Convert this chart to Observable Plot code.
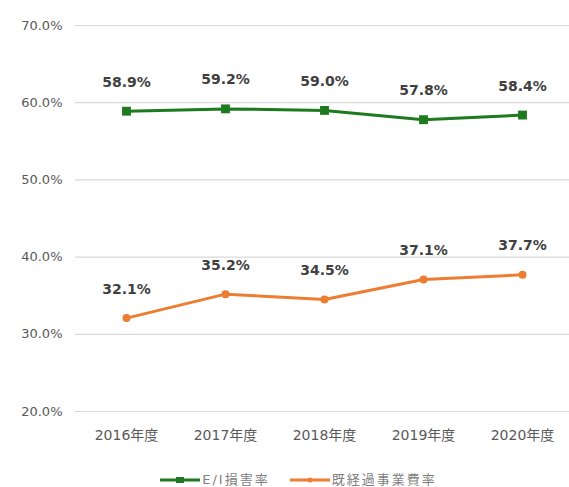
<!DOCTYPE html>
<html>
<head>
<meta charset="utf-8">
<script src="https://cdn.jsdelivr.net/npm/d3@7"></script>
<script src="https://cdn.jsdelivr.net/npm/@observablehq/plot@0.6"></script>
<style>
  html, body { margin: 0; padding: 0; background: #fff; }
  body { width: 569px; font-family: "DejaVu Sans", "Noto Sans CJK JP", sans-serif; }
  #legend { display: flex; justify-content: center; gap: 20px; margin-top: 17px; font-size: 13px; letter-spacing: 2px; line-height: 16px; color: #7f7f7f; padding-left: 28px; }
  #legend .item { display: flex; align-items: center; gap: 2px; }
  #legend svg { display: block; }
</style>
</head>
<body>
<div id="chart"></div>
<div id="legend"></div>
<script>
const years = ["2016年度", "2017年度", "2018年度", "2019年度", "2020年度"];
const seriesNames = ["E/I損害率", "既経過事業費率"];
const lossRatio = [58.9, 59.2, 59.0, 57.8, 58.4];
const expenseRatio = [32.1, 35.2, 34.5, 37.1, 37.7];
const yTicks = [20, 30, 40, 50, 60, 70];
const colors = ["#1e7a1e", "#ed7d31"];

const data = [];
years.forEach((y, i) => {
  data.push({year: y, series: seriesNames[0], value: lossRatio[i]});
  data.push({year: y, series: seriesNames[1], value: expenseRatio[i]});
});
const green = data.filter(d => d.series === seriesNames[0]);
const orange = data.filter(d => d.series === seriesNames[1]);
const fmt = d => d.toFixed(1) + "%";

const plot = Plot.plot({
  width: 569,
  height: 455,
  marginLeft: 75,
  marginRight: 0,
  marginTop: 25,
  marginBottom: 44,
  style: {fontFamily: '"DejaVu Sans", "Noto Sans CJK JP", sans-serif', fontSize: "12px", color: "#595959", background: "#fff"},
  x: {type: "point", domain: years, range: [125, 522], padding: 0, label: null},
  y: {domain: [20, 70], label: null},
  marks: [
    Plot.ruleY(yTicks, {stroke: "#d9d9d9", strokeWidth: 1.2}),
    Plot.axisY({ticks: yTicks, tickSize: 0, tickPadding: 13, tickFormat: fmt, label: null, fill: "#595959", fontSize: 13, style: {letterSpacing: "1.5px"}}),
    Plot.axisX({tickSize: 0, tickPadding: 19, label: null, fill: "#595959", fontSize: 14, style: {letterSpacing: "1px"}}),
    Plot.line(green, {x: "year", y: "value", stroke: colors[0], strokeWidth: 3}),
    Plot.dot(green, {x: "year", y: "value", symbol: "square", r: 5, fill: colors[0], stroke: null}),
    Plot.line(orange, {x: "year", y: "value", stroke: colors[1], strokeWidth: 3}),
    Plot.dot(orange, {x: "year", y: "value", r: 4, fill: colors[1], stroke: null}),
    Plot.text(data, {x: "year", y: "value", text: d => fmt(d.value), dy: -29, fill: "#404040", fontWeight: "bold", fontSize: 14, style: {letterSpacing: "1px"}})
  ]
});
document.getElementById("chart").appendChild(plot);

const legend = document.getElementById("legend");
seriesNames.forEach((name, i) => {
  const item = document.createElement("div");
  item.className = "item";
  const marker = i === 0
    ? `<rect x="16" y="2" width="8" height="6" fill="${colors[i]}"/>`
    : `<circle cx="20" cy="5" r="2.5" fill="${colors[i]}"/>`;
  item.innerHTML = `<svg width="40" height="10"><line x1="0" x2="40" y1="5" y2="5" stroke="${colors[i]}" stroke-width="3"/>${marker}</svg><span>${name}</span>`;
  legend.appendChild(item);
});
</script>
</body>
</html>
